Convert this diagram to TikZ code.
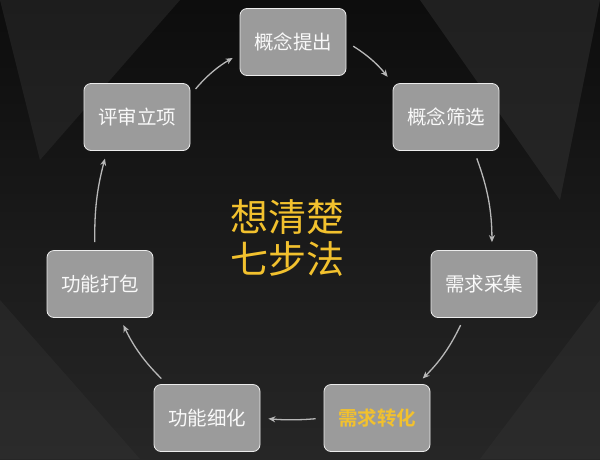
\documentclass[tikz,border=0pt]{standalone}
\usepackage{fontspec}
\newfontfamily\cjk{Noto Sans CJK SC}
\newfontfamily\cjkb{Noto Sans CJK SC Bold}
\usetikzlibrary{arrows.meta}
\definecolor{boxgray}{HTML}{9B9B9B}
\definecolor{gold}{HTML}{F2C12E}
\definecolor{arr}{HTML}{B8B8B8}
\tikzset{
  stepbox/.style={draw=white!85!gray, line width=0.8pt, fill=boxgray, rounded corners=7pt,
    minimum width=106pt, minimum height=67pt, text=white!95!gray, font=\cjk\fontsize{19.5}{22}\selectfont},
  flow/.style={draw=arr, line width=1.3pt, -{Stealth[length=7pt,width=6pt]}, shorten >=8pt, shorten <=8pt}
}
\begin{document}
\begin{tikzpicture}[x=1pt,y=-1pt]
\useasboundingbox (0,0) rectangle (600,459);
\shade[top color=black!95, bottom color=black!85] (0,0) rectangle (600,459);
\fill[black!80,opacity=0.5] (600,0) -- (420,0) -- (560,200) -- cycle;
\fill[black!82,opacity=0.5] (0,0) -- (180,0) -- (40,160) -- cycle;
\fill[black!80,opacity=0.4] (0,300) -- (140,459) -- (0,459) -- cycle;
\fill[black!80,opacity=0.4] (600,300) -- (480,459) -- (600,459) -- cycle;
\node[stepbox] (a) at (293,42) {概念提出};
\node[stepbox] (b) at (446,117) {概念筛选};
\node[stepbox] (c) at (484,284) {需求采集};
\node[stepbox, text=gold, font=\cjkb\fontsize{19.5}{22}\selectfont] (d) at (377,418) {需求转化};
\node[stepbox] (e) at (207,418) {功能细化};
\node[stepbox] (f) at (100,284) {功能打包};
\node[stepbox] (g) at (137,117) {评审立项};
\node[text=gold, font=\cjk\fontsize{38}{42}\selectfont, align=center] (t) at (287,238) {想清楚\\七步法};
\draw[flow] (a.east) to[bend left=10] (b.north west);
\draw[flow] ([xshift=28pt]b.south) to[bend left=10] ([xshift=8pt]c.north);
\draw[flow] ([xshift=-20pt]c.south) to[bend left=10] ([xshift=40pt]d.north);
\draw[flow] (d.west) to[bend left=5] (e.east);
\draw[flow] ([xshift=-40pt]e.north) to[bend left=10] ([xshift=20pt]f.south);
\draw[flow] ([xshift=-5pt]f.north) to[bend left=8] ([xshift=-30pt]g.south);
\draw[flow] ([yshift=-12pt]g.north east) to[bend left=10] ([yshift=-12pt]a.west);
\end{tikzpicture}
\end{document}
